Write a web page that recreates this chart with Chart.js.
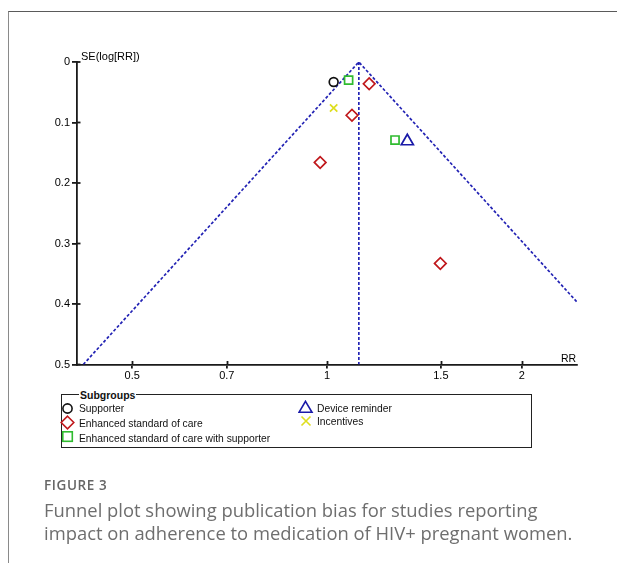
<!DOCTYPE html>
<html>
<head>
<meta charset="utf-8">
<script src="https://cdn.jsdelivr.net/npm/chart.js@4/dist/chart.umd.min.js"></script>
<style>
  html, body { margin: 0; padding: 0; background: #fff; }
  #wrap { position: relative; width: 617px; height: 563px; overflow: hidden; background: #fff; }
  #frame { position: absolute; left: 8px; top: 11px; width: 640px; height: 600px;
           border-left: 1.5px solid #8a8a8a; border-top: 1.5px solid #5a5a5a; }
  canvas { position: absolute; left: 0; top: 0; }
  .ax { position: absolute; font-family: "Liberation Sans", Arial, sans-serif; color: #000;
        white-space: nowrap; line-height: 13px; }
  #legend { position: absolute; left: 61px; top: 394px; width: 471px; height: 54px;
            border: 1.4px solid #222; box-sizing: border-box; }
  #legTitle { position: absolute; left: 79px; top: 389px; font: bold 10.5px "Liberation Sans", Arial, sans-serif;
              color: #111; background: #fff; padding: 0 1px; line-height: 12px; }
  .li { position: absolute; font: 10.3px "Liberation Sans", Arial, sans-serif; color: #111; line-height: 12px; white-space: nowrap; }
  .mk { position: absolute; }
  .cap { position: absolute; left: 44px; white-space: nowrap; font-family: "Open Sans", "Noto Sans", sans-serif; }
  #figlab { font-size: 13.5px; font-weight: 600; color: #666; line-height: 13px; letter-spacing: 0.6px; }
  .capline { font-size: 18.4px; font-weight: 400; color: #6e6e6e; line-height: 17px; }
</style>
</head>
<body>
<div id="wrap">
  <div id="frame"></div>
  <canvas id="c" width="617" height="563"></canvas>
  <div class="ax" id="ytitle" style="left:81px; top:50px; font-size:11px;">SE(log[RR])</div>
  <div class="ax" id="xtitle" style="left:561px; top:352px; font-size:10.5px;">RR</div>

  <div id="legend"></div>
  <div id="legTitle">Subgroups</div>

  <svg class="mk" style="left:61px; top:402px" width="14" height="14"><circle cx="6.5" cy="6.5" r="4.6" fill="none" stroke="#111" stroke-width="1.6"/></svg>
  <div class="li" style="left:79px; top:403px">Supporter</div>

  <svg class="mk" style="left:60px; top:415px" width="16" height="16"><polygon points="7.5,1.2 13.8,7.5 7.5,13.8 1.2,7.5" fill="none" stroke="#c0181c" stroke-width="1.6"/></svg>
  <div class="li" style="left:79px; top:418px">Enhanced standard of care</div>

  <svg class="mk" style="left:61px; top:430px" width="14" height="14"><rect x="1.8" y="1.8" width="9.5" height="9.5" fill="none" stroke="#2fbb2f" stroke-width="1.6"/></svg>
  <div class="li" style="left:79px; top:433px">Enhanced standard of care with supporter</div>

  <svg class="mk" style="left:298px; top:400px" width="16" height="14"><polygon points="7.5,1.3 14,12.3 1,12.3" fill="none" stroke="#1a1aa8" stroke-width="1.6"/></svg>
  <div class="li" style="left:317px; top:403px">Device reminder</div>

  <svg class="mk" style="left:300px; top:415px" width="13" height="13"><path d="M1.5,1.5 L10.5,10.5 M10.5,1.5 L1.5,10.5" stroke="#dede1e" stroke-width="1.6"/></svg>
  <div class="li" style="left:317px; top:416px">Incentives</div>

  <div class="cap" id="figlab" style="top:479px">FIGURE 3</div>
  <div class="cap capline" id="cap1" style="top:501px">Funnel plot showing publication bias for studies reporting</div>
  <div class="cap capline" id="cap2" style="top:524px">impact on adherence to medication of HIV+ pregnant women.</div>
</div>

<script>
// ---- Data ----
const xTickValues = [0.5, 0.7, 1, 1.5, 2];
const yTickValues = [0, 0.1, 0.2, 0.3, 0.4, 0.5];

const supporterRR = [1.024];
const supporterSE = [0.033];

const enhancedRR = [1.162, 1.093, 0.976, 1.497];
const enhancedSE = [0.036, 0.088, 0.166, 0.333];

const enhancedSupRR = [1.080, 1.274];
const enhancedSupSE = [0.030, 0.129];

const deviceRR = [1.331];
const deviceSE = [0.131];

const incentivesRR = [1.024];
const incentivesSE = [0.076];

// funnel (pseudo 95% CI) outline and pooled estimate line
const funnelRR = [0.42, 1.12, 2.98];
const funnelSE = [0.5, 0, 0.5];
const pooledRR = [1.12, 1.12];
const pooledSE = [0, 0.5];

const xMin = 0.4107, xMax = 2.435;

function pts(xs, ys) { return xs.map((x, i) => ({ x: x, y: ys[i] })); }

const AXIS = '#1a1a1a';
const FONT = { family: '"Liberation Sans", Arial, sans-serif', size: 11 };

const innerTicks = {
  id: 'innerTicks',
  afterDraw(chart) {
    const ctx = chart.ctx, xs = chart.scales.x, ys = chart.scales.y;
    ctx.save();
    ctx.strokeStyle = AXIS; ctx.lineWidth = 1.8;
    xs.ticks.forEach(t => {
      const px = Math.round(xs.getPixelForValue(t.value)) + 0.5;
      ctx.beginPath(); ctx.moveTo(px, xs.top); ctx.lineTo(px, xs.top - 3.5); ctx.stroke();
    });
    ys.ticks.forEach(t => {
      const py = ys.getPixelForValue(t.value);
      ctx.beginPath(); ctx.moveTo(ys.right, py); ctx.lineTo(ys.right + 3.5, py); ctx.stroke();
    });
    ctx.restore();
  }
};

new Chart(document.getElementById('c'), {
  type: 'scatter',
  data: {
    datasets: [
      { label: 'Supporter', data: pts(supporterRR, supporterSE), pointStyle: 'circle', pointRadius: 4.4,
        borderColor: '#111', backgroundColor: 'rgba(0,0,0,0)', borderWidth: 1.7, order: 1 },
      { label: 'Enhanced standard of care', data: pts(enhancedRR, enhancedSE), pointStyle: 'rectRot', pointRadius: 5.8,
        borderColor: '#c0181c', backgroundColor: 'rgba(0,0,0,0)', borderWidth: 1.7, order: 1 },
      { label: 'Enhanced standard of care with supporter', data: pts(enhancedSupRR, enhancedSupSE), pointStyle: 'rect', pointRadius: 5.7,
        borderColor: '#2fbb2f', backgroundColor: 'rgba(0,0,0,0)', borderWidth: 1.7, order: 1 },
      { label: 'Device reminder', data: pts(deviceRR, deviceSE), pointStyle: 'triangle', pointRadius: 7,
        borderColor: '#1a1aa8', backgroundColor: 'rgba(0,0,0,0)', borderWidth: 1.7, order: 1 },
      { label: 'Incentives', data: pts(incentivesRR, incentivesSE), pointStyle: 'crossRot', pointRadius: 5.2,
        borderColor: '#dede1e', backgroundColor: 'rgba(0,0,0,0)', borderWidth: 1.7, order: 1 },
      { label: 'Funnel', data: pts(funnelRR, funnelSE), showLine: true, pointRadius: 0,
        borderColor: '#2323b4', borderWidth: 1.7, borderDash: [3, 2], fill: false, order: 2 },
      { label: 'Pooled', data: pts(pooledRR, pooledSE), showLine: true, pointRadius: 0,
        borderColor: '#2323b4', borderWidth: 1.7, borderDash: [3, 2], fill: false, order: 2 }
    ]
  },
  options: {
    responsive: false,
    animation: false,
    devicePixelRatio: 1,
    layout: { padding: { left: 40, top: 62, right: 40, bottom: 173.5 } },
    plugins: { legend: { display: false }, tooltip: { enabled: false } },
    scales: {
      x: {
        type: 'logarithmic', position: 'bottom', min: xMin, max: xMax,
        afterBuildTicks(scale) { scale.ticks = xTickValues.map(v => ({ value: v })); },
        afterFit(scale) { scale.height = 25; },
        ticks: { font: FONT, color: '#000', padding: 1, maxRotation: 0, autoSkip: false,
                 callback: (v) => String(v) },
        grid: { display: true, drawOnChartArea: false, drawTicks: true, tickLength: 4, color: AXIS, lineWidth: 1.8 },
        border: { display: true, color: AXIS, width: 1.8 }
      },
      y: {
        type: 'linear', position: 'left', reverse: true, min: 0, max: 0.5,
        afterBuildTicks(scale) { scale.ticks = yTickValues.map(v => ({ value: v })); },
        afterFit(scale) { scale.width = 37; },
        ticks: { font: FONT, color: '#000', padding: 2, autoSkip: false,
                 callback: (v) => (v === 0 ? '0' : v.toFixed(1)) },
        grid: { display: true, drawOnChartArea: false, drawTicks: true, tickLength: 5, color: AXIS, lineWidth: 1.8 },
        border: { display: true, color: AXIS, width: 1.8 }
      }
    }
  },
  plugins: [innerTicks]
});
</script>
</body>
</html>
